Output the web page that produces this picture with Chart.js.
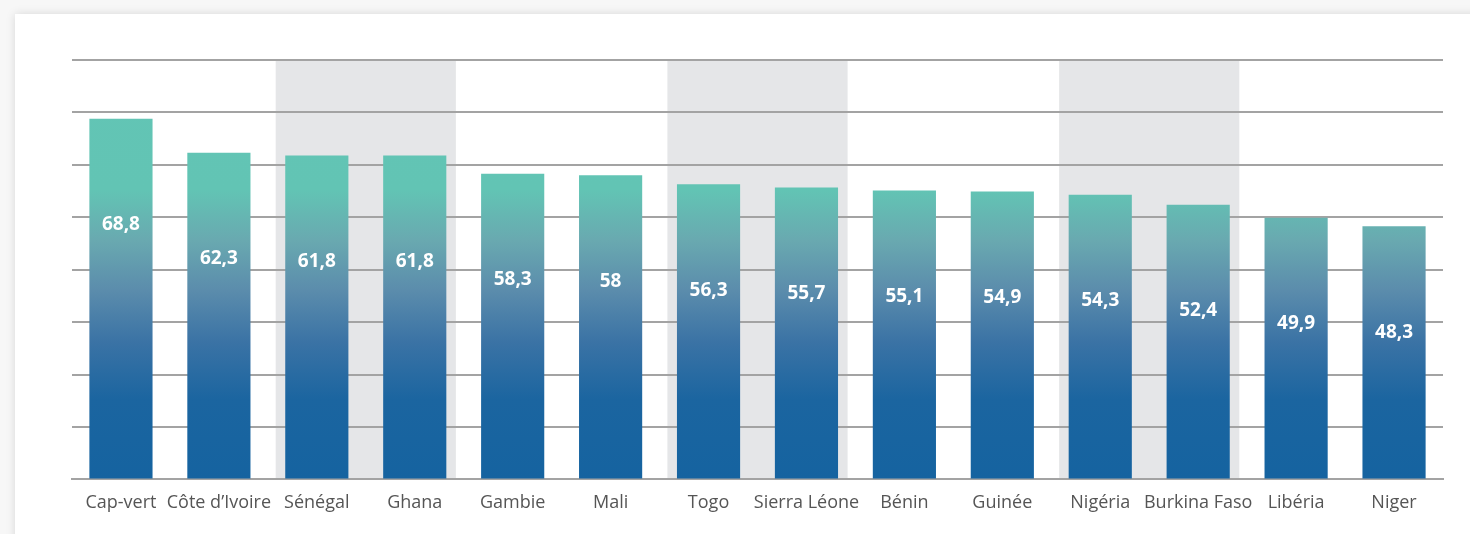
<!DOCTYPE html>
<html>
<head>
<meta charset="utf-8">
<script src="https://cdn.jsdelivr.net/npm/chart.js@4"></script>
<style>
  html, body { margin: 0; padding: 0; background: #f7f7f7; overflow: hidden; }
  #panel { position: absolute; left: 15px; top: 14px; width: 1470px; height: 540px; background: #fff; box-shadow: 0 0 9px rgba(0,0,0,0.13); }
  #wrap { position: absolute; left: 0; top: 0; width: 1470px; height: 534px; }
</style>
</head>
<body>
<div id="panel"></div>
<div id="wrap"><canvas id="grafico"></canvas></div>
<script>
// Données
const pays = ['Cap-vert', 'Côte d\u2019Ivoire', 'Sénégal', 'Ghana', 'Gambie', 'Mali', 'Togo',
  'Sierra Léone', 'Bénin', 'Guinée', 'Nigéria', 'Burkina Faso', 'Libéria', 'Niger'];
const valeurs = [68.8, 62.3, 61.8, 61.8, 58.3, 58, 56.3, 55.7, 55.1, 54.9, 54.3, 52.4, 49.9, 48.3];
// paires de catégories sur fond gris
const bandes = [[2, 3], [6, 7], [10, 11]];
const graduations = [0, 10, 20, 30, 40, 50, 60, 70, 80];

// dégradé vertical sur toute la zone du graphique
function degrade(context) {
  const { ctx, chartArea } = context.chart;
  if (!chartArea) return '#1a64a0';
  const g = ctx.createLinearGradient(0, chartArea.top, 0, chartArea.bottom);
  g.addColorStop(0, '#62c5b5');
  g.addColorStop(0.31, '#62c4b4');
  g.addColorStop(0.43, '#69a9b0');
  g.addColorStop(0.55, '#5b8cac');
  g.addColorStop(0.67, '#3b73a5');
  g.addColorStop(0.81, '#1b65a0');
  g.addColorStop(1, '#1563a0');
  return g;
}

const fondsGris = {
  id: 'fondsGris',
  beforeDraw(chart) {
    const { ctx, chartArea, scales } = chart;
    const x = scales.x;
    const w = x.width / pays.length;
    ctx.save();
    ctx.fillStyle = '#e5e6e8';
    bandes.forEach(([a, b]) => {
      const gauche = x.getPixelForValue(a) - w * 0.42;
      const droite = x.getPixelForValue(b) + w * 0.42;
      ctx.fillRect(gauche, chartArea.top, droite - gauche, chartArea.bottom - chartArea.top);
    });
    ctx.restore();
  }
};

const etiquettes = {
  id: 'etiquettes',
  afterDatasetsDraw(chart) {
    const { ctx } = chart;
    const meta = chart.getDatasetMeta(0);
    ctx.save();
    ctx.fillStyle = '#ffffff';
    ctx.font = 'bold 19px "Open Sans", sans-serif';
    ctx.textAlign = 'center';
    ctx.textBaseline = 'middle';
    meta.data.forEach((bar, i) => {
      const texte = String(valeurs[i]).replace('.', ',');
      ctx.fillText(texte, bar.x, bar.y + 106);
    });
    ctx.restore();
  }
};

new Chart(document.getElementById('grafico'), {
  type: 'bar',
  data: {
    labels: pays,
    datasets: [{
      data: valeurs,
      backgroundColor: degrade,
      borderWidth: 0,
      categoryPercentage: 1,
      barPercentage: 0.645
    }]
  },
  options: {
    responsive: true,
    maintainAspectRatio: false,
    animation: false,
    layout: { padding: { left: 72, right: 27, top: 60, bottom: 15 } },
    plugins: { legend: { display: false }, tooltip: { enabled: false } },
    scales: {
      x: {
        grid: { display: false },
        border: { color: '#a3a3a3', width: 2 },
        ticks: {
          color: '#555555',
          font: { family: '"Open Sans", sans-serif', size: 18 },
          maxRotation: 0, minRotation: 0, autoSkip: false, padding: 5
        }
      },
      y: {
        min: 0, max: 80,
        afterBuildTicks(axis) { axis.ticks = graduations.map(v => ({ value: v })); },
        ticks: { display: false },
        border: { display: false },
        grid: { color: '#a3a3a3', lineWidth: 2, drawTicks: false }
      }
    }
  },
  plugins: [fondsGris, etiquettes]
});
</script>
</body>
</html>
